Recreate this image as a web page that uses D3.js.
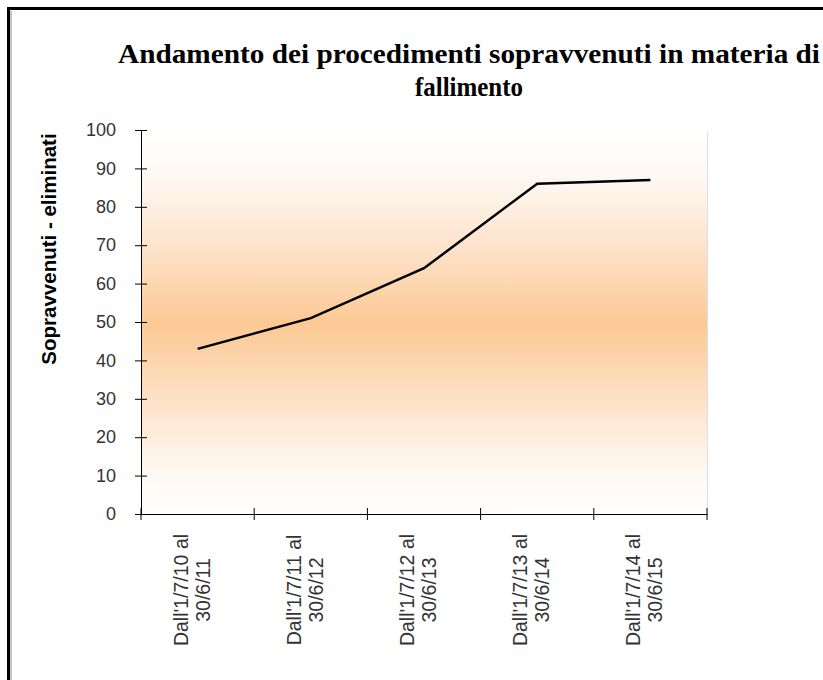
<!DOCTYPE html>
<html>
<head>
<meta charset="utf-8">
<script src="https://cdn.jsdelivr.net/npm/d3@7"></script>
<style>
  body { margin: 0; background: #fff; }
  svg { display: block; }
</style>
</head>
<body>
<script>
const categories = [
  ["Dall'1/7/10 al", "30/6/11"],
  ["Dall'1/7/11 al", "30/6/12"],
  ["Dall'1/7/12 al", "30/6/13"],
  ["Dall'1/7/13 al", "30/6/14"],
  ["Dall'1/7/14 al", "30/6/15"]
];
const values = [43, 51, 64, 86, 87];
const yTicks = [0, 10, 20, 30, 40, 50, 60, 70, 80, 90, 100];
const titleLines = ['Andamento dei procedimenti sopravvenuti in materia di', 'fallimento'];
const yLabel = 'Sopravvenuti - eliminati';

const width = 823;
const height = 680;
const plot = { left: 141, right: 707, top: 130, bottom: 514 };

const svg = d3.select('body').append('svg')
  .attr('width', width)
  .attr('height', height);

// outer frame (runs off the right and bottom edges)
svg.append('path')
  .attr('d', `M${width + 5},8.5 H8.5 V${height + 5}`)
  .attr('fill', 'none')
  .attr('stroke', '#000')
  .attr('stroke-width', 3);
svg.append('path')
  .attr('d', `M11,${height + 5} V11`)
  .attr('fill', 'none')
  .attr('stroke', '#888')
  .attr('stroke-width', 1);

const defs = svg.append('defs');
const grad = defs.append('linearGradient')
  .attr('id', 'bg')
  .attr('x1', 0).attr('y1', 0).attr('x2', 0).attr('y2', 1);
[[0, '#ffffff'], [0.12, '#fef8f2'], [0.3, '#fde3cb'], [0.5, '#fcc994'],
 [0.7, '#fde1c6'], [0.88, '#fef7f0'], [1, '#ffffff']].forEach(s => {
  grad.append('stop').attr('offset', s[0]).attr('stop-color', s[1]);
});

const x = d3.scaleBand()
  .domain(d3.range(categories.length))
  .range([plot.left, plot.right]);

const y = d3.scaleLinear()
  .domain([0, 100])
  .range([plot.bottom, plot.top]);

svg.append('rect')
  .attr('x', plot.left)
  .attr('y', plot.top + 2)
  .attr('width', plot.right - plot.left)
  .attr('height', plot.bottom - plot.top - 2)
  .attr('fill', 'url(#bg)');

// faint right border of plot area
svg.append('line')
  .attr('x1', plot.right + 0.5).attr('x2', plot.right + 0.5)
  .attr('y1', plot.top + 2).attr('y2', plot.bottom)
  .attr('stroke', '#d6e0f0')
  .attr('stroke-width', 1);

// title
const titleWidths = [702, 108];
svg.append('g')
  .selectAll('text')
  .data(titleLines)
  .enter().append('text')
    .attr('x', 469)
    .attr('y', (d, i) => 63 + i * 33)
    .attr('text-anchor', 'middle')
    .attr('textLength', (d, i) => titleWidths[i])
    .attr('lengthAdjust', 'spacingAndGlyphs')
    .style('font-family', '"Liberation Serif", "Times New Roman", serif')
    .style('font-weight', 'bold')
    .style('font-size', '27px')
    .text(d => d);

// y axis
const yAxis = svg.append('g')
  .attr('transform', `translate(${plot.left},0)`)
  .call(d3.axisLeft(y).tickValues(yTicks).tickSizeInner(6).tickSizeOuter(0).tickPadding(19));
yAxis.select('.domain').attr('stroke', '#000');
yAxis.selectAll('.tick line').attr('x2', 6).attr('x1', -6).attr('stroke', '#000');
yAxis.selectAll('.tick text')
  .style('font-family', '"Liberation Sans", Arial, sans-serif')
  .style('font-size', '18px')
  .attr('fill', '#333');

// x axis
const xAxis = svg.append('g')
  .attr('transform', `translate(0,${plot.bottom})`)
  .call(d3.axisBottom(x).tickValues([]).tickSizeOuter(0));
xAxis.select('.domain').attr('stroke', '#000');
xAxis.selectAll('.sep')
  .data(d3.range(categories.length + 1))
  .enter().append('line')
    .attr('class', 'sep')
    .attr('x1', i => i < categories.length ? x(i) : plot.right)
    .attr('x2', i => i < categories.length ? x(i) : plot.right)
    .attr('y1', -6)
    .attr('y2', 6)
    .attr('stroke', '#000');

const xLabels = svg.append('g')
  .selectAll('text')
  .data(categories)
  .enter().append('text')
    .attr('transform', (d, i) => `translate(${x(i) + x.bandwidth() / 2 - 10},590) rotate(-90)`)
    .attr('text-anchor', 'middle')
    .style('font-family', '"Liberation Sans", Arial, sans-serif')
    .style('font-size', '19.5px')
    .attr('fill', '#333');
xLabels.selectAll('tspan')
  .data(d => d)
  .enter().append('tspan')
    .attr('x', 0)
    .attr('dy', (d, i) => i === 0 ? 0 : 22)
    .text(d => d);

// y label
svg.append('text')
  .attr('transform', 'translate(56,249) rotate(-90)')
  .attr('text-anchor', 'middle')
  .style('font-family', '"Liberation Sans", Arial, sans-serif')
  .style('font-weight', 'bold')
  .style('font-size', '20.5px')
  .text(yLabel);

// line
const line = d3.line()
  .x((d, i) => x(i) + x.bandwidth() / 2)
  .y(d => y(d));

svg.append('path')
  .datum(values)
  .attr('d', line)
  .attr('fill', 'none')
  .attr('stroke', '#000')
  .attr('stroke-width', 2.5);
</script>
</body>
</html>
